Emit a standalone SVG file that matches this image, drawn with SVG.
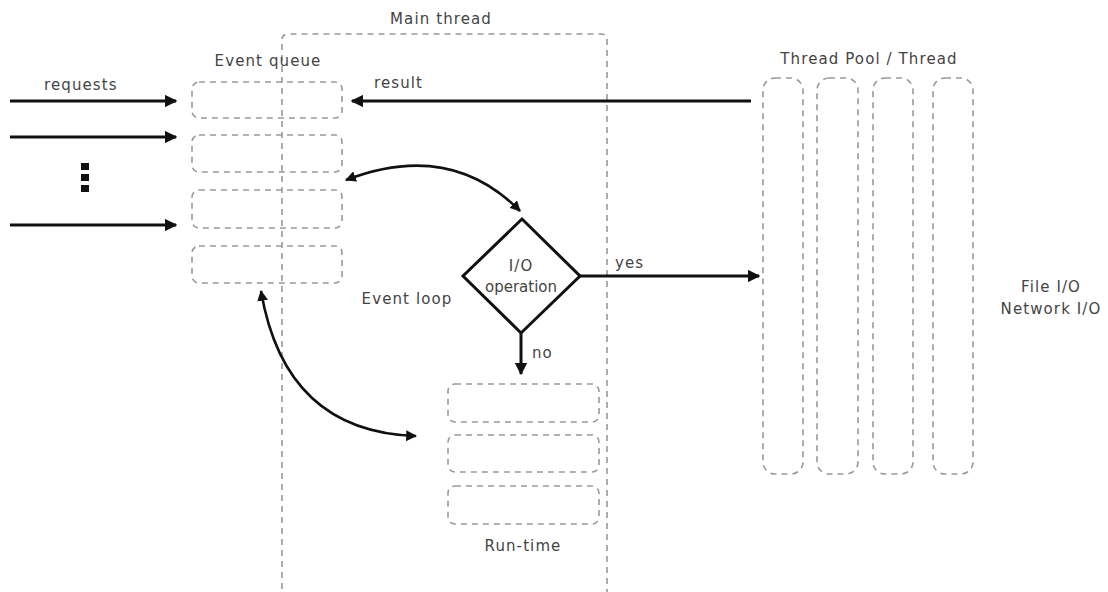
<svg xmlns="http://www.w3.org/2000/svg" width="1108" height="592" viewBox="0 0 1108 592">
  <style>
    .dash { fill: none; stroke: #999; stroke-width: 1.6; stroke-dasharray: 6 5; }
    .lbl { font-family: "DejaVu Sans", "Liberation Sans", sans-serif; font-size: 15px; letter-spacing: 1.1px; fill: #444; }
    .mid { text-anchor: middle; }
    .arr { fill: none; stroke: #111; stroke-width: 3; }
    .carr { fill: none; stroke: #111; stroke-width: 2.6; }
  </style>
  <defs>
    <marker id="head" viewBox="0 0 10 10" refX="9" refY="5" markerWidth="4.2" markerHeight="4.2" markerUnits="strokeWidth" orient="auto-start-reverse">
      <path d="M0,0 L10,5 L0,10 Z" fill="#111"/>
    </marker>
  </defs>
  <rect width="1108" height="592" fill="#fff"/>

  <!-- main thread container (open at bottom) -->
  <g id="main-thread">
    <path class="dash" d="M282,600 L282,40 Q282,34 288,34 L601,34 Q607,34 607,40 L607,600"/>
    <text class="lbl mid" x="441" y="24">Main thread</text>
  </g>

  <!-- event queue -->
  <g id="event-queue">
    <text class="lbl mid" x="268" y="66">Event queue</text>
    <rect class="dash" x="192" y="82" width="150" height="36" rx="7"/>
    <rect class="dash" x="192" y="135" width="150" height="37" rx="7"/>
    <rect class="dash" x="192" y="190" width="150" height="38" rx="7"/>
    <rect class="dash" x="192" y="246" width="150" height="37" rx="7"/>
  </g>

  <!-- stacked dots between request arrows -->
  <g id="ellipsis" fill="#111">
    <rect x="81" y="163" width="8" height="7"/>
    <rect x="81" y="174" width="8" height="7"/>
    <rect x="81" y="185" width="8" height="7"/>
  </g>

  <!-- decision -->
  <g id="io-decision">
    <polygon points="522,219 580,276 521,333 463,276" fill="#fff" stroke="#111" stroke-width="3"/>
    <text class="lbl mid" x="521" y="271">I/O</text>
    <text class="lbl mid" x="521" y="292" style="letter-spacing:0px">operation</text>
  </g>

  <g id="event-loop">
    <text class="lbl mid" x="407" y="304">Event loop</text>
  </g>

  <!-- run-time stack -->
  <g id="run-time">
    <rect class="dash" x="448" y="384" width="151" height="38" rx="7"/>
    <rect class="dash" x="448" y="435" width="151" height="37" rx="7"/>
    <rect class="dash" x="448" y="486" width="151" height="38" rx="7"/>
    <text class="lbl mid" x="523" y="551">Run-time</text>
  </g>

  <!-- worker threads -->
  <g id="thread-pool">
    <text class="lbl mid" x="869" y="64">Thread Pool / Thread</text>
    <rect class="dash" x="763" y="78" width="40" height="396" rx="12"/>
    <rect class="dash" x="817" y="78" width="41" height="396" rx="12"/>
    <rect class="dash" x="873" y="78" width="40" height="396" rx="12"/>
    <rect class="dash" x="933" y="78" width="40" height="396" rx="12"/>
  </g>

  <g id="io-kinds">
    <text class="lbl mid" x="1051" y="292">File I/O</text>
    <text class="lbl mid" x="1051" y="314">Network I/O</text>
  </g>

  <!-- connectors -->
  <g id="connectors">
    <path class="arr" d="M10,101 L176,101" marker-end="url(#head)"/>
    <path class="arr" d="M10,137 L176,137" marker-end="url(#head)"/>
    <path class="arr" d="M10,225 L176,225" marker-end="url(#head)"/>
    <text class="lbl" x="44" y="90">requests</text>

    <path class="arr" d="M751,101 L352,101" marker-end="url(#head)"/>
    <text class="lbl" x="374" y="88">result</text>

    <path class="carr" d="M346,180 Q450,140 520,211" marker-start="url(#head)" marker-end="url(#head)"/>
    <path class="carr" d="M261,291 Q285,432 416,436" marker-start="url(#head)" marker-end="url(#head)"/>

    <path class="arr" d="M580,276 L759,276" marker-end="url(#head)"/>
    <text class="lbl" x="615" y="268">yes</text>

    <path class="arr" d="M521,333 L521,374" marker-end="url(#head)"/>
    <text class="lbl" x="532" y="358">no</text>
  </g>
</svg>
